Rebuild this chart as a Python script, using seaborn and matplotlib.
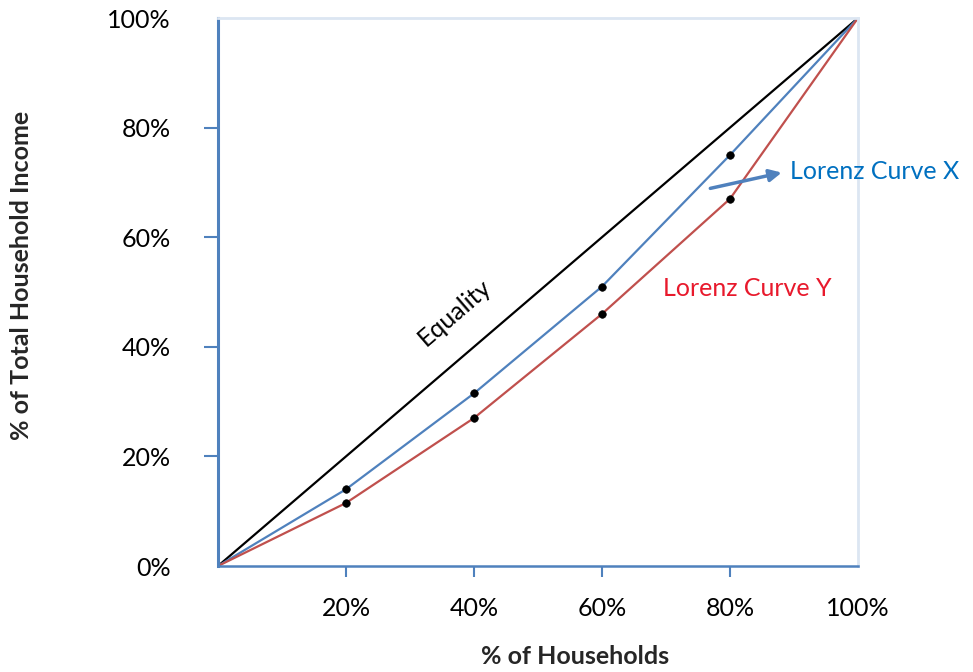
import matplotlib
matplotlib.use("Agg")
import matplotlib.pyplot as plt
import seaborn as sns
import pandas as pd

# Data
households = [0, 20, 40, 60, 80, 100]
equality = [0, 20, 40, 60, 80, 100]
curve_x = [0, 14, 31.5, 51, 75, 100]
curve_y = [0, 11.5, 27, 46, 67, 100]
xtick_vals = [20, 40, 60, 80, 100]
ytick_vals = [0, 20, 40, 60, 80, 100]
tick_labels_x = ["20%", "40%", "60%", "80%", "100%"]
tick_labels_y = ["0%", "20%", "40%", "60%", "80%", "100%"]

sns.set_theme(style="white")
plt.rcParams['font.family'] = ['Lato', 'DejaVu Sans']

BLUE = "#4F81BD"
RED = "#C0504D"
LIGHT = "#DCE6F2"

fig = plt.figure(figsize=(9.73, 6.72), dpi=100)
ax = fig.add_axes([218/973, 1-566/672, (858-218)/973, (566-18)/672])

df = pd.DataFrame({
    "h": households * 3,
    "v": equality + curve_x + curve_y,
    "s": ["Equality"] * 6 + ["X"] * 6 + ["Y"] * 6,
})
sns.lineplot(data=df, x="h", y="v", hue="s",
             palette={"Equality": "black", "X": BLUE, "Y": RED},
             linewidth=1.6, legend=False, ax=ax, zorder=2)

dots = pd.DataFrame({"h": households[1:-1] * 2,
                     "v": curve_x[1:-1] + curve_y[1:-1]})
sns.scatterplot(data=dots, x="h", y="v", color="black", s=30,
                edgecolor="black", ax=ax, zorder=3)

ax.set_xlim(0, 100)
ax.set_ylim(0, 100)
ax.set_xticks(xtick_vals)
ax.set_xticklabels(tick_labels_x)
ax.set_yticks(ytick_vals)
ax.set_yticklabels(tick_labels_y)
ax.tick_params(axis="x", direction="out", length=8, width=1.5, color=BLUE,
               labelsize=18, pad=14, bottom=True)
ax.tick_params(axis="y", direction="out", length=10, width=1.5, color=BLUE,
               labelsize=18, pad=24, left=True)
ax.xaxis.get_major_ticks()[-1].tick1line.set_visible(False)
ax.yaxis.get_major_ticks()[0].tick1line.set_visible(False)
ax.yaxis.get_major_ticks()[-1].tick1line.set_visible(False)
for lab in ax.get_xticklabels() + ax.get_yticklabels():
    lab.set_color("black")

ax.spines["left"].set_color(BLUE)
ax.spines["left"].set_linewidth(2.2)
ax.spines["bottom"].set_color(BLUE)
ax.spines["bottom"].set_linewidth(1.8)
ax.spines["top"].set_color(LIGHT)
ax.spines["top"].set_linewidth(2)
ax.spines["right"].set_color(LIGHT)
ax.spines["right"].set_linewidth(2)
for sp in ax.spines.values():
    sp.set_visible(True)

ax.set_xlabel("")
ax.set_ylabel("")
fig.text(575/973, 1-657/672, "% of Households", ha="center", va="center",
         fontsize=18, fontweight="bold")
fig.text(22/973, 1-275/672, "% of Total Household Income", ha="center",
         va="center", rotation=90, fontsize=18, fontweight="bold")

ax.text(37.0, 46.3, "Equality", rotation=40.8, rotation_mode="anchor",
        ha="center", va="center", fontsize=18, color="black")
ax.text(69.5, 50.7, "Lorenz Curve Y", ha="left", va="center", fontsize=18,
        color="#E8192C")
ax.text(89.4, 71.9, "Lorenz Curve X", ha="left", va="center", fontsize=18,
        color="#0070C0", clip_on=False)
ax.annotate("", xy=(88.5, 71.9), xytext=(76.5, 68.8),
            arrowprops=dict(arrowstyle="-|>", color=BLUE, lw=2.5,
                            mutation_scale=18), annotation_clip=False)

fig.savefig("out.png", dpi=100)
